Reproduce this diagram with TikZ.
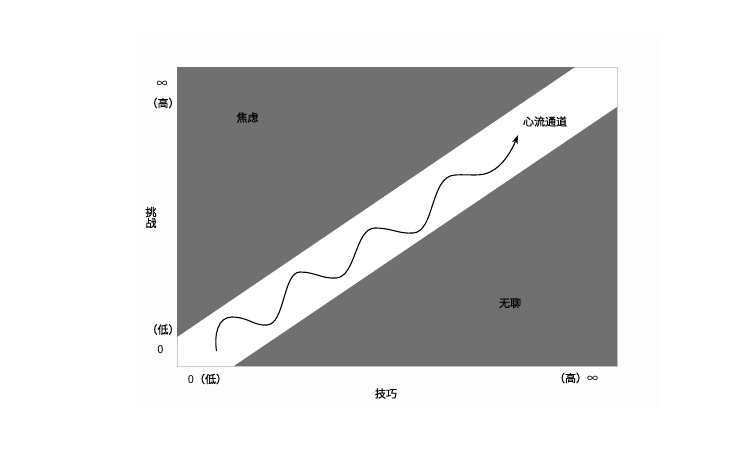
\documentclass[tikz,border=0pt]{standalone}
\usepackage{fontspec}
\newfontfamily\cjk{Noto Sans CJK SC}[FakeBold=0.7]
\newfontfamily\cjkreg{Noto Sans CJK SC}
\usetikzlibrary{arrows.meta}
\definecolor{bandgray}{RGB}{112,112,112}
\definecolor{framegray}{RGB}{205,205,205}
\definecolor{pagebg}{RGB}{253,253,253}
\tikzset{
  lbl/.style={font=\cjk\fontsize{11}{13}\selectfont, inner sep=0pt, text=black},
  vlbl/.style={font=\cjk\fontsize{11}{10}\selectfont, inner sep=0pt, align=center, text=black},
  zone/.style={fill=bandgray},
  frameline/.style={draw=framegray, line width=0.6pt},
  flow/.style={line width=1.1pt, -{Stealth[length=9pt,width=6pt]}}
}
\begin{document}
\begin{tikzpicture}[x=1pt,y=-1pt]
\useasboundingbox (0,0) rectangle (754,471);
\fill[white] (0,0) rectangle (754,471);
\fill[pagebg] (136,33) rectangle (662,408);
% plot area
\coordinate (TL) at (177,67);
\coordinate (TR) at (617,67);
\coordinate (BR) at (617,366);
\coordinate (BLc) at (177,366);
\fill[white] (TL) rectangle (BR);
\draw[frameline] (TL) rectangle (BR);
% anxiety zone
\coordinate (U1) at (575,67);
\coordinate (U2) at (177,337);
\fill[zone] (TL) -- (U1) -- (U2) -- cycle;
% boredom zone
\coordinate (L1) at (234,366);
\coordinate (L2) at (617,107);
\fill[zone] (L1) -- (L2) -- (BR) -- cycle;
% flow curve
\coordinate (s) at (216.5,351);
\coordinate (e) at (518,135);
\draw[flow] (s)
  .. controls (214,334) and (218,317) .. (232,317)
  .. controls (248,317) and (254,326) .. (267,325)
  .. controls (285,324) and (283,272) .. (300,272)
  .. controls (315,272) and (322,279) .. (336,278)
  .. controls (356,277) and (355,228) .. (375,228)
  .. controls (392,228) and (398,234) .. (413,233)
  .. controls (435,232) and (430,176) .. (455,175)
  .. controls (470,174) and (480,177) .. (490,172)
  .. controls (503,166) and (512,150) .. (e);
% labels
\node[lbl] (inf1) at (162,84) {\cjkreg ∞};
\node[lbl] (hi1) at (163,103) {（高）};
\node[lbl] (lo1) at (163,329.5) {（低）};
\node[lbl] (z1) at (160.5,350) {\cjkreg 0};
\node[vlbl] (tz) at (151,217.5) {挑\\战};
\node[lbl] (z2) at (207.5,379) {{\cjkreg 0}（低）};
\node[lbl] (hi2) at (576,378) {（高）{\cjkreg ∞}};
\node[lbl] (jq) at (386,393.5) {技巧};
\node[lbl] (jl) at (247.5,117.5) {焦虑};
\node[lbl] (xl) at (545,121.5) {心流通道};
\node[lbl] (wl) at (510,303) {无聊};
\end{tikzpicture}
\end{document}
